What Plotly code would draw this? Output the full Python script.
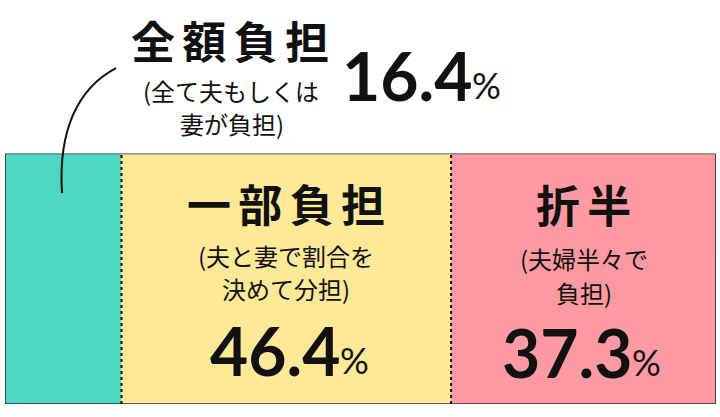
import plotly.graph_objects as go

# ---- data ----
categories = ["全額負担", "一部負担", "折半"]
values = [16.4, 46.4, 37.3]
value_labels = ["16.4", "46.4", "37.3"]
sub_lines = [
    ["(全て夫もしくは", "妻が負担)"],
    ["(夫と妻で割合を", "決めて分担)"],
    ["(夫婦半々で", "負担)"],
]
colors = ["#4ed8c3", "#fee999", "#ff9aa2"]

W, H = 720, 417
total = sum(values)

fig = go.Figure()
for cat, v, c in zip(categories, values, colors):
    fig.add_trace(go.Bar(
        y=["bar"], x=[v], orientation="h", name=cat,
        marker=dict(color=c, line=dict(width=0)),
        hoverinfo="skip", showlegend=False,
    ))

def px(x):
    return x / W

def py(y):
    return 1 - y / H

JP = "Noto Sans CJK JP"
NUM = "Lato"

fig.update_layout(
    width=W, height=H, barmode="stack", bargap=0,
    margin=dict(l=0, r=0, t=0, b=0),
    paper_bgcolor="white", plot_bgcolor="white",
    xaxis=dict(domain=[px(5), px(716)], range=[0, total], visible=False, fixedrange=True),
    yaxis=dict(domain=[py(404), py(153.5)], range=[-0.5, 0.5], visible=False, fixedrange=True),
)

# outer border
fig.add_shape(type="rect", xref="x", yref="y", x0=0, x1=total, y0=-0.5, y1=0.5,
              line=dict(color="#2a2a2a", width=1.6), layer="above")
# dotted dividers
cum = 0.0
mids = []
for v in values:
    mids.append(cum + v / 2)
    cum += v
    if cum < total - 1e-9:
        fig.add_shape(type="line", xref="x", yref="y", x0=cum, x1=cum, y0=-0.5, y1=0.5,
                      line=dict(color="#111", width=2, dash="dot"), layer="above")

# leader line for first segment
p = "M {:.4f} {:.4f} C {:.4f} {:.4f}, {:.4f} {:.4f}, {:.4f} {:.4f}".format(
    px(116), py(68), px(78), py(88), px(58), py(130), px(62), py(193))
fig.add_shape(type="path", xref="paper", yref="paper", path=p,
              line=dict(color="#111", width=2))

def ann(x, y, text, size, xref="paper", bold=False, family=JP, xanchor="center", xshift=0):
    t = "<b>" + text + "</b>" if bold else text
    fig.add_annotation(x=x, y=y, xref=xref, yref="paper", text=t, showarrow=False,
                       font=dict(family=family, size=size, color="#111"),
                       xanchor=xanchor, yanchor="middle", xshift=xshift)

def pct(x, y, label, xref="paper", shift=52):
    # number to the left of the shift point, a lighter percent sign to its right
    ann(x, y, label, 66, xref=xref, bold=True, family=NUM, xanchor="right", xshift=shift + 3)
    ann(x, y - 10 / H, "%", 36, xref=xref, family=NUM, xanchor="left", xshift=shift - 2)

# first segment (label above bar)
ann(px(230), py(40), "\u2006".join(categories[0]), 44, bold=True)
ann(px(231), py(90), sub_lines[0][0], 24)
ann(px(232), py(124), sub_lines[0][1], 24)
pct(px(420), py(75), value_labels[0])

# second segment
ann(mids[1], py(203), "\u2006".join(categories[1]), 44, xref="x", bold=True)
ann(mids[1], py(255), sub_lines[1][0], 24, xref="x")
ann(mids[1], py(288), sub_lines[1][1], 24, xref="x")
pct(mids[1], py(350), value_labels[1], xref="x", shift=54)

# third segment
ann(mids[2], py(204), "\u2006".join(categories[2]), 44, xref="x", bold=True)
ann(mids[2], py(258), sub_lines[2][0], 24, xref="x")
ann(mids[2], py(292), sub_lines[2][1], 24, xref="x")
pct(mids[2], py(352), value_labels[2], xref="x", shift=48)

fig.write_html("out.html", config={"displayModeBar": False},
               post_script="document.body.style.margin='0';")
